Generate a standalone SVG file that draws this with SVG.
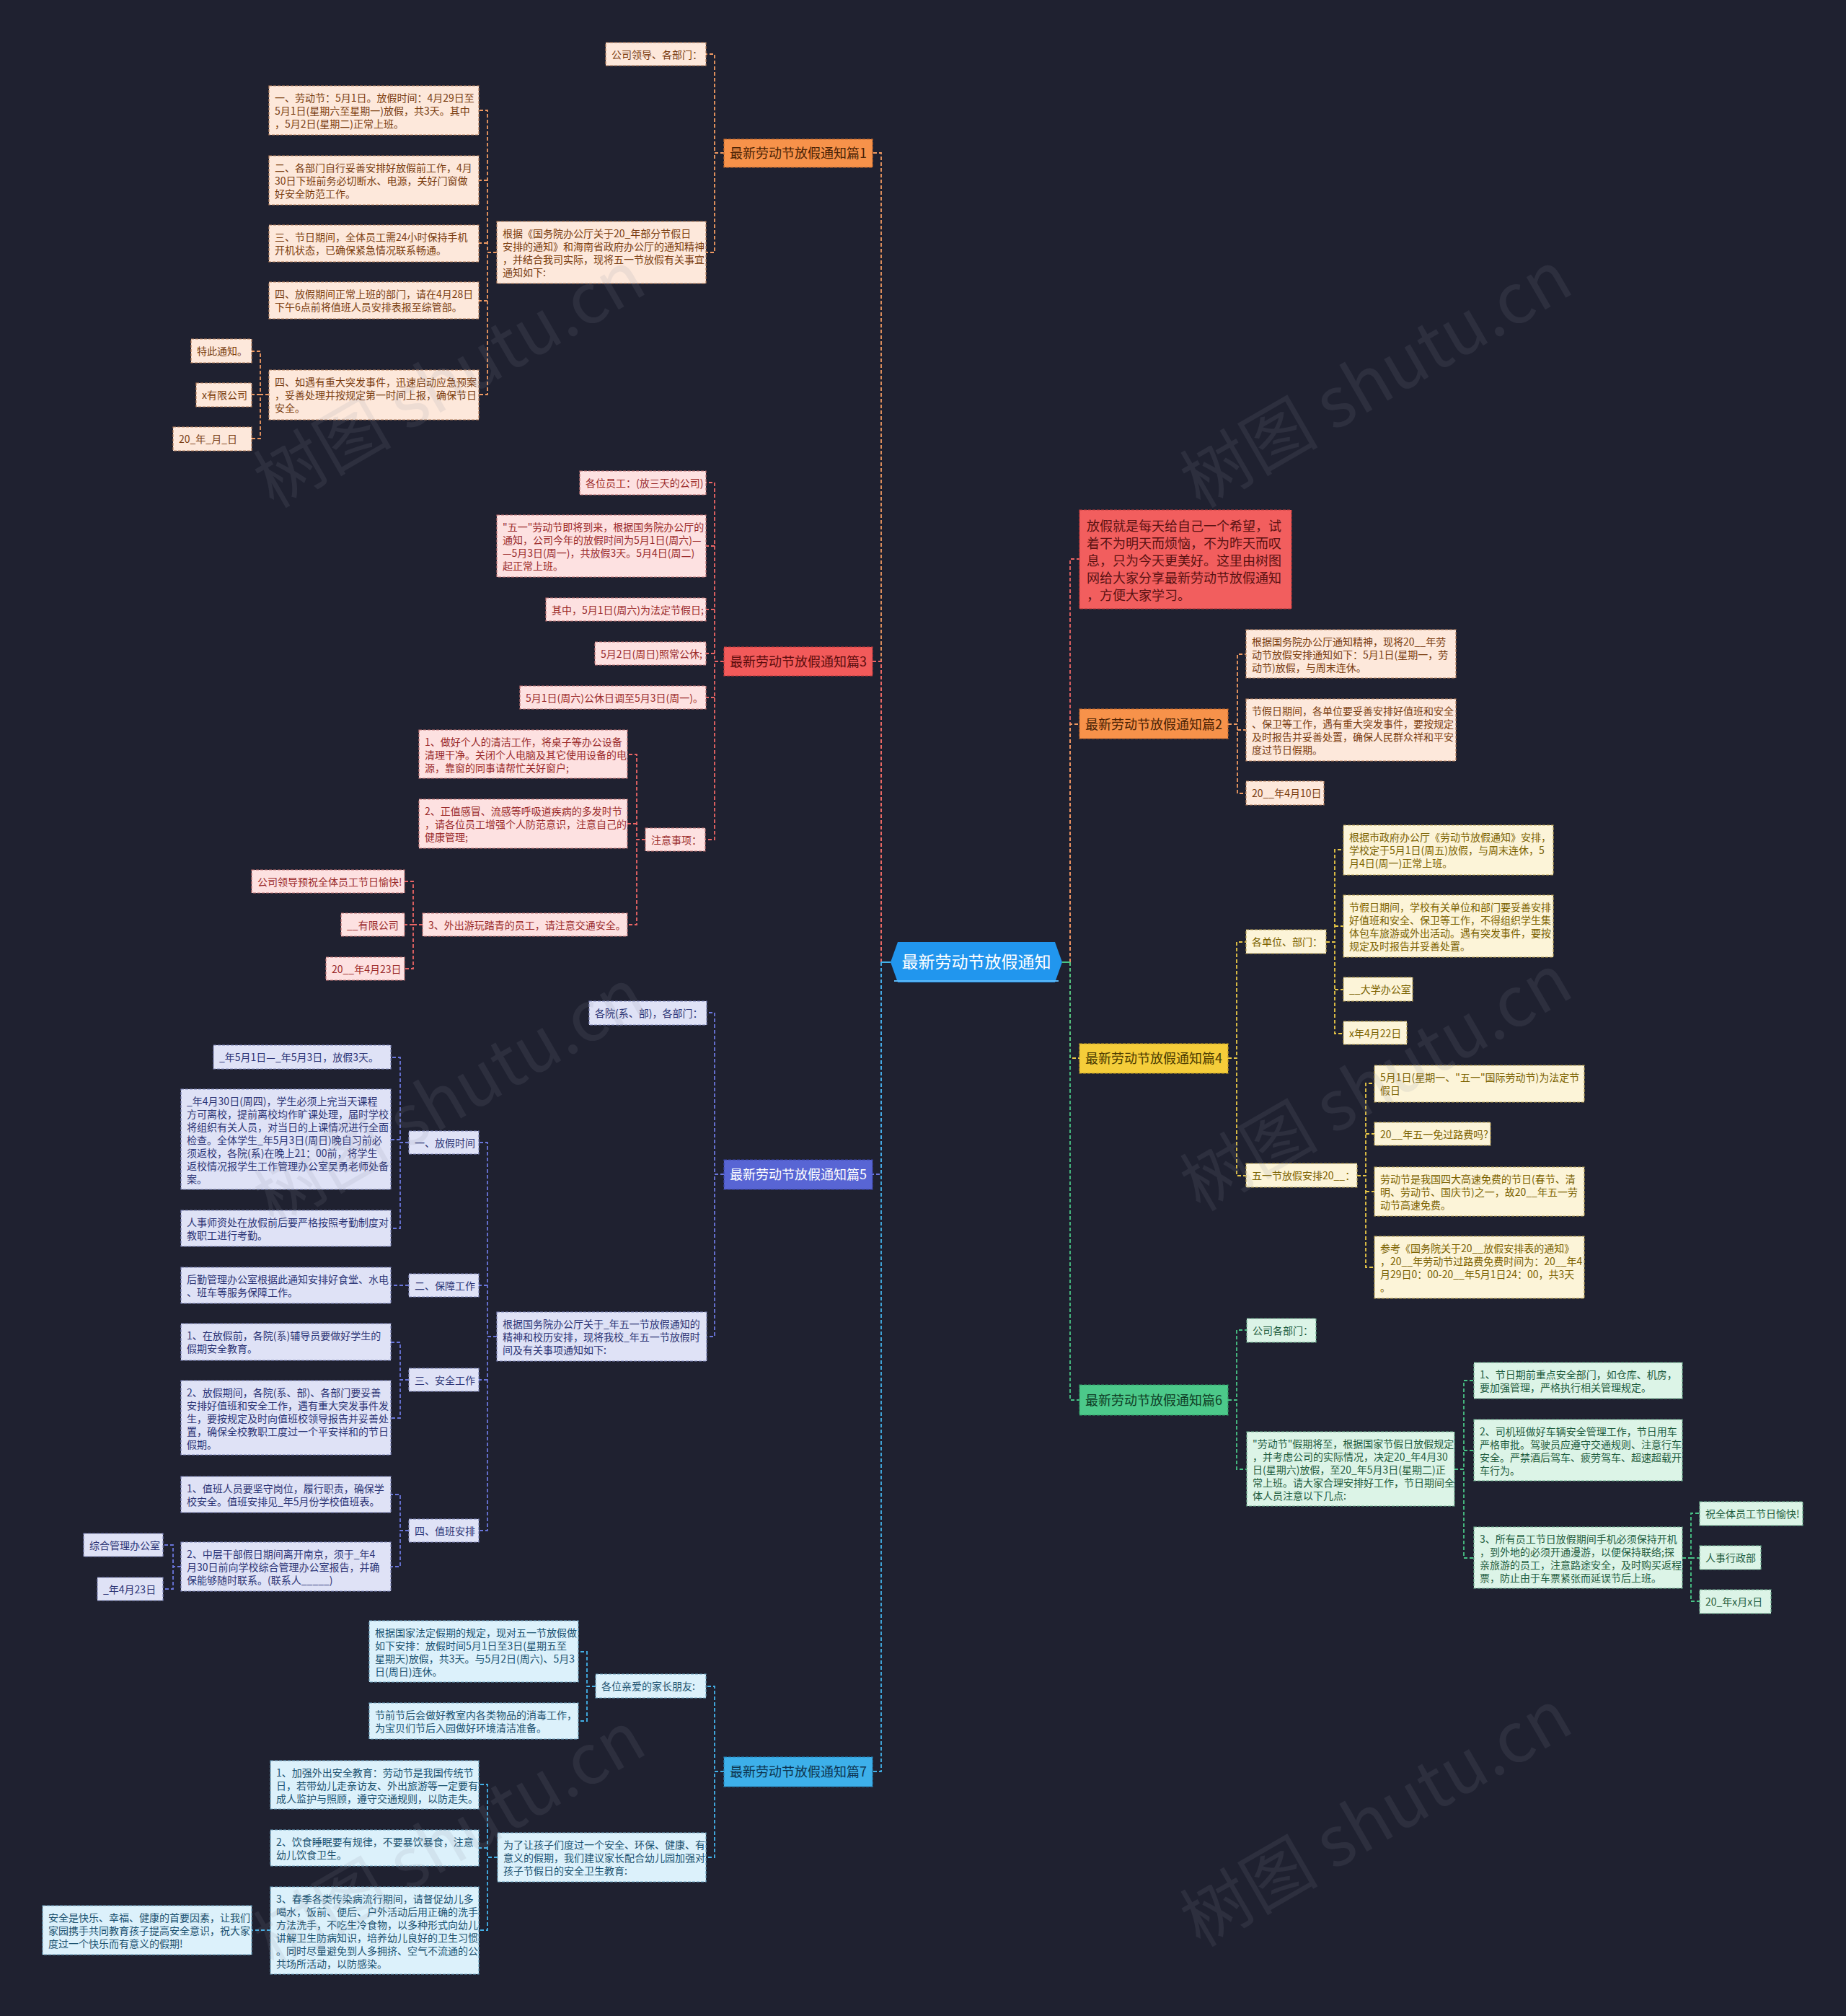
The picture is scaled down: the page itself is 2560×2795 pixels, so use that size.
<svg xmlns="http://www.w3.org/2000/svg" width="2560" height="2795" viewBox="0 0 2560 2795">
<style>
text{font-family:"Noto Sans CJK SC","Microsoft YaHei","Liberation Sans",sans-serif;font-size:14px}
.c{fill:none;stroke-width:1.8;stroke-dasharray:5 3}
.so{stroke:#f09a62}.sr{stroke:#ec6565}.si{stroke:#6a76dc}.ss{stroke:#43b2ea}.sy{stroke:#e9c846}.sg{stroke:#48c486}
.b{stroke-width:1.2;stroke-dasharray:4 2}
.bo{fill:#fde8db;stroke:#b8805c}.br{fill:#fde1e1;stroke:#c07070}.bi{fill:#dfe2f6;stroke:#7d84b8}.bs{fill:#dcf1fb;stroke:#6aa2bf}.by{fill:#fcf4d8;stroke:#b8a050}.bg{fill:#dcf4e7;stroke:#6aae8c}
.to{fill:#7a3d10}.tr{fill:#9a2a2a}.ti{fill:#2c3475}.ts{fill:#1b5270}.ty{fill:#7b6200}.tg{fill:#1f5c3e}
.tp{font-size:18px;text-anchor:middle}
.wm{font-size:96px;fill:#8a8fa0;opacity:0.13;text-anchor:middle}
</style>
<rect width="2560" height="2795" fill="#1f2130"/>

<g id="connectors">
<path class="c so" d="M1222,1334 V212 H1210"/>
<path class="c sr" d="M1222,1334 V917 H1210"/>
<path class="c si" d="M1222,1334 V1628 H1210"/>
<path class="c ss" d="M1222,1334 V2456 H1210"/>
<path class="c sr" d="M1484,1334 V775 H1497"/>
<path class="c so" d="M1484,1334 V1004 H1497"/>
<path class="c sy" d="M1484,1334 V1467 H1497"/>
<path class="c sg" d="M1484,1334 V1941 H1497"/>
<path d="M1235,1334 H1222" stroke="#43b2ea" stroke-width="2" fill="none"/>
<path d="M1473,1334 H1484" stroke="#48c486" stroke-width="2" fill="none"/>

<path class="c so" d="M1004,212 H991 V75 H979 M1004,212 H991 V350 H979"/>
<path class="c so" d="M689,350 H676 V153 H664 M676,250 H664 M676,337 H664 M676,417 H664 M689,350 H676 V547 H664"/>
<path class="c so" d="M373,547 H361 V487 H349 M361,547 H349 M373,547 H361 V608 H349"/>

<path class="c sr" d="M1004,917 H991 V669 H979 M991,757 H979 M991,845 H979 M991,906 H979 M1004,917 H991 V1164 H978 M991,967 H979"/>
<path class="c sr" d="M895,1164 H883 V1046 H870 M883,1142 H870 M895,1164 H883 V1282 H870"/>
<path class="c sr" d="M586,1282 H573 V1222 H561 M573,1282 H561 M586,1282 H573 V1343 H561"/>

<path class="c si" d="M1004,1628 H991 V1404 H980 M1004,1628 H991 V1853 H980"/>
<path class="c si" d="M689,1853 H676 V1584 H664 M676,1782 H664 M676,1913 H664 M689,1853 H676 V2122 H664"/>
<path class="c si" d="M567,1584 H555 V1466 H542 M555,1580 H542 M567,1584 H555 V1703 H542"/>
<path class="c si" d="M567,1782 H542"/>
<path class="c si" d="M567,1913 H555 V1861 H542 M567,1913 H555 V1966 H542"/>
<path class="c si" d="M567,2122 H555 V2072 H542 M567,2122 H555 V2172 H542"/>
<path class="c si" d="M251,2172 H240 V2142 H226 M251,2172 H240 V2203 H226"/>

<path class="c ss" d="M1004,2456 H991 V2338 H979 M1004,2456 H991 V2575 H979"/>
<path class="c ss" d="M826,2338 H814 V2290 H802 M826,2338 H814 V2386 H802"/>
<path class="c ss" d="M690,2575 H676 V2474 H664 M676,2562 H664 M690,2575 H676 V2676 H664"/>
<path class="c ss" d="M375,2676 H349"/>

<path class="c so" d="M1703,1004 H1716 V907 H1728 M1716,1012 H1728 M1703,1004 H1716 V1100 H1728"/>

<path class="c sy" d="M1703,1467 H1715 V1306 H1728 M1703,1467 H1715 V1630 H1728"/>
<path class="c sy" d="M1839,1306 H1851 V1178 H1863 M1851,1284 H1863 M1839,1306 H1851 V1433 H1863 M1851,1372 H1863"/>
<path class="c sy" d="M1882,1630 H1894 V1502 H1906 M1894,1572 H1906 M1882,1630 H1894 V1757 H1906 M1894,1652 H1906"/>

<path class="c sg" d="M1703,1941 H1715 V1844 H1729 M1703,1941 H1715 V2037 H1729"/>
<path class="c sg" d="M2017,2037 H2030 V1914 H2044 M2030,2011 H2044 M2017,2037 H2030 V2160 H2044"/>
<path class="c sg" d="M2333,2160 H2345 V2098 H2357 M2345,2160 H2357 M2333,2160 H2345 V2220 H2357"/>
</g>

<g id="center">
<polygon points="1235,1334 1245,1306 1463,1306 1473,1334 1463,1362 1245,1362" fill="#2196ee"/>
<path d="M1240,1360 H1468" stroke="#5cb8f7" stroke-width="2"/>
<text x="1354" y="1342" text-anchor="middle" style="font-size:23px" fill="#ffffff">最新劳动节放假通知</text>
</g>

<g id="topic1"><rect x="1004" y="193" width="206" height="39" fill="#f7924a" stroke="#c86a2c" stroke-width="1.2" stroke-dasharray="4 2"/><text class="tp" x="1107" y="218.5" fill="#4a2205">最新劳动节放假通知篇1</text></g>
<g id="topic3"><rect x="1004" y="897" width="206" height="40" fill="#f25a5a" stroke="#c03a3a" stroke-width="1.2" stroke-dasharray="4 2"/><text class="tp" x="1107" y="923.5" fill="#5c0d0d">最新劳动节放假通知篇3</text></g>
<g id="topic5"><rect x="1004" y="1608" width="206" height="41" fill="#5865d4" stroke="#3a45a8" stroke-width="1.2" stroke-dasharray="4 2"/><text class="tp" x="1107" y="1635" fill="#ffffff">最新劳动节放假通知篇5</text></g>
<g id="topic7"><rect x="1004" y="2436" width="206" height="41" fill="#3db0ea" stroke="#2585bb" stroke-width="1.2" stroke-dasharray="4 2"/><text class="tp" x="1107" y="2463" fill="#0d3550">最新劳动节放假通知篇7</text></g>
<g id="topic2"><rect x="1497" y="983" width="206" height="41" fill="#f7924a" stroke="#c86a2c" stroke-width="1.2" stroke-dasharray="4 2"/><text class="tp" x="1600" y="1010.5" fill="#4a2205">最新劳动节放假通知篇2</text></g>
<g id="topic4"><rect x="1497" y="1447" width="206" height="41" fill="#f5cd3a" stroke="#c4a020" stroke-width="1.2" stroke-dasharray="4 2"/><text class="tp" x="1600" y="1474" fill="#4a3a00">最新劳动节放假通知篇4</text></g>
<g id="topic6"><rect x="1497" y="1920" width="206" height="42" fill="#4cc98a" stroke="#2f9a64" stroke-width="1.2" stroke-dasharray="4 2"/><text class="tp" x="1600" y="1947.5" fill="#0f3d25">最新劳动节放假通知篇6</text></g>

<g id="intro"><rect x="1497" y="707" width="294" height="137" fill="#f25e5e" stroke="#c03a3a" stroke-width="1.2" stroke-dasharray="4 2"/>
<text style="font-size:18px" fill="#5a1212"><tspan x="1507" y="735.5">放假就是每天给自己一个希望，试</tspan><tspan x="1507" y="759.5">着不为明天而烦恼，不为昨天而叹</tspan><tspan x="1507" y="783.5">息，只为今天更美好。这里由树图</tspan><tspan x="1507" y="807.5">网给大家分享最新劳动节放假通知</tspan><tspan x="1507" y="831.5">，方便大家学习。</tspan></text></g>

<!-- 篇1 -->
<g id="n1a"><rect class="b bo" x="840" y="59" width="139" height="32"/><text class="to" x="848" y="80.5">公司领导、各部门：</text></g>
<g id="n1b"><rect class="b bo" x="689" y="307" width="290" height="86"/><text class="to"><tspan x="697" y="328.5">根据《国务院办公厅关于20_年部分节假日</tspan><tspan x="697" y="346.5">安排的通知》和海南省政府办公厅的通知精神</tspan><tspan x="697" y="364.5">，并结合我司实际，现将五一节放假有关事宜</tspan><tspan x="697" y="382.5">通知如下:</tspan></text></g>
<g id="n1c"><rect class="b bo" x="373" y="119" width="291" height="68"/><text class="to"><tspan x="381" y="140.5">一、劳动节：5月1日。放假时间：4月29日至</tspan><tspan x="381" y="158.5">5月1日(星期六至星期一)放假，共3天。其中</tspan><tspan x="381" y="176.5">，5月2日(星期二)正常上班。</tspan></text></g>
<g id="n1d"><rect class="b bo" x="373" y="216" width="291" height="68"/><text class="to"><tspan x="381" y="237.5">二、各部门自行妥善安排好放假前工作，4月</tspan><tspan x="381" y="255.5">30日下班前务必切断水、电源，关好门窗做</tspan><tspan x="381" y="273.5">好安全防范工作。</tspan></text></g>
<g id="n1e"><rect class="b bo" x="373" y="312" width="291" height="51"/><text class="to"><tspan x="381" y="333.5">三、节日期间，全体员工需24小时保持手机</tspan><tspan x="381" y="351.5">开机状态，已确保紧急情况联系畅通。</tspan></text></g>
<g id="n1f"><rect class="b bo" x="373" y="391" width="291" height="51"/><text class="to"><tspan x="381" y="412.5">四、放假期间正常上班的部门，请在4月28日</tspan><tspan x="381" y="430.5">下午6点前将值班人员安排表报至综管部。</tspan></text></g>
<g id="n1g"><rect class="b bo" x="373" y="513" width="291" height="69"/><text class="to"><tspan x="381" y="534.5">四、如遇有重大突发事件，迅速启动应急预案</tspan><tspan x="381" y="552.5">，妥善处理并按规定第一时间上报，确保节日</tspan><tspan x="381" y="570.5">安全。</tspan></text></g>
<g id="n1h"><rect class="b bo" x="265" y="470" width="84" height="33"/><text class="to" x="273" y="491.5">特此通知。</text></g>
<g id="n1i"><rect class="b bo" x="272" y="531" width="77" height="33"/><text class="to" x="280" y="552.5">x有限公司</text></g>
<g id="n1j"><rect class="b bo" x="240" y="592" width="109" height="33"/><text class="to" x="248" y="613.5">20_年_月_日</text></g>

<!-- 篇3 -->
<g id="n3a"><rect class="b br" x="804" y="653" width="175" height="33"/><text class="tr" x="812" y="674.5">各位员工：(放三天的公司)</text></g>
<g id="n3b"><rect class="b br" x="689" y="714" width="290" height="86"/><text class="tr"><tspan x="697" y="735.5">"五一"劳动节即将到来，根据国务院办公厅的</tspan><tspan x="697" y="753.5">通知，公司今年的放假时间为5月1日(周六)—</tspan><tspan x="697" y="771.5">—5月3日(周一)，共放假3天。5月4日(周二)</tspan><tspan x="697" y="789.5">起正常上班。</tspan></text></g>
<g id="n3c"><rect class="b br" x="757" y="829" width="222" height="32"/><text class="tr" x="765" y="850.5">其中，5月1日(周六)为法定节假日;</text></g>
<g id="n3d"><rect class="b br" x="825" y="890" width="154" height="32"/><text class="tr" x="833" y="911.5">5月2日(周日)照常公休;</text></g>
<g id="n3e"><rect class="b br" x="721" y="951" width="258" height="32"/><text class="tr" x="729" y="972.5">5月1日(周六)公休日调至5月3日(周一)。</text></g>
<g id="n3f"><rect class="b br" x="895" y="1148" width="83" height="32"/><text class="tr" x="903" y="1169.5">注意事项：</text></g>
<g id="n3g"><rect class="b br" x="581" y="1012" width="289" height="67"/><text class="tr"><tspan x="589" y="1033.5">1、做好个人的清洁工作，将桌子等办公设备</tspan><tspan x="589" y="1051.5">清理干净。关闭个人电脑及其它使用设备的电</tspan><tspan x="589" y="1069.5">源，靠窗的同事请帮忙关好窗户;</tspan></text></g>
<g id="n3h"><rect class="b br" x="581" y="1108" width="289" height="68"/><text class="tr"><tspan x="589" y="1129.5">2、正值感冒、流感等呼吸道疾病的多发时节</tspan><tspan x="589" y="1147.5">，请各位员工增强个人防范意识，注意自己的</tspan><tspan x="589" y="1165.5">健康管理;</tspan></text></g>
<g id="n3i"><rect class="b br" x="586" y="1266" width="284" height="32"/><text class="tr" x="594" y="1287.5">3、外出游玩踏青的员工，请注意交通安全。</text></g>
<g id="n3j"><rect class="b br" x="349" y="1206" width="212" height="32"/><text class="tr" x="357" y="1227.5">公司领导预祝全体员工节日愉快!</text></g>
<g id="n3k"><rect class="b br" x="473" y="1266" width="88" height="32"/><text class="tr" x="481" y="1287.5">__有限公司</text></g>
<g id="n3l"><rect class="b br" x="452" y="1327" width="109" height="32"/><text class="tr" x="460" y="1348.5">20__年4月23日</text></g>

<!-- 篇5 -->
<g id="n5a"><rect class="b bi" x="817" y="1388" width="163" height="33"/><text class="ti" x="825" y="1409.5">各院(系、部)，各部门：</text></g>
<g id="n5b"><rect class="b bi" x="689" y="1819" width="291" height="68"/><text class="ti"><tspan x="697" y="1840.5">根据国务院办公厅关于_年五一节放假通知的</tspan><tspan x="697" y="1858.5">精神和校历安排，现将我校_年五一节放假时</tspan><tspan x="697" y="1876.5">间及有关事项通知如下:</tspan></text></g>
<g id="n5c"><rect class="b bi" x="567" y="1568" width="97" height="32"/><text class="ti" x="575" y="1589.5">一、放假时间</text></g>
<g id="n5d"><rect class="b bi" x="567" y="1766" width="97" height="32"/><text class="ti" x="575" y="1787.5">二、保障工作</text></g>
<g id="n5e"><rect class="b bi" x="567" y="1897" width="97" height="32"/><text class="ti" x="575" y="1918.5">三、安全工作</text></g>
<g id="n5f"><rect class="b bi" x="567" y="2106" width="97" height="32"/><text class="ti" x="575" y="2127.5">四、值班安排</text></g>
<g id="n5g"><rect class="b bi" x="296" y="1449" width="246" height="33"/><text class="ti" x="304" y="1470.5">_年5月1日—_年5月3日，放假3天。</text></g>
<g id="n5h"><rect class="b bi" x="251" y="1510" width="291" height="139"/><text class="ti"><tspan x="259" y="1531.5">_年4月30日(周四)，学生必须上完当天课程</tspan><tspan x="259" y="1549.5">方可离校，提前离校均作旷课处理，届时学校</tspan><tspan x="259" y="1567.5">将组织有关人员，对当日的上课情况进行全面</tspan><tspan x="259" y="1585.5">检查。全体学生_年5月3日(周日)晚自习前必</tspan><tspan x="259" y="1603.5">须返校，各院(系)在晚上21：00前，将学生</tspan><tspan x="259" y="1621.5">返校情况报学生工作管理办公室吴勇老师处备</tspan><tspan x="259" y="1639.5">案。</tspan></text></g>
<g id="n5i"><rect class="b bi" x="251" y="1678" width="291" height="50"/><text class="ti"><tspan x="259" y="1699.5">人事师资处在放假前后要严格按照考勤制度对</tspan><tspan x="259" y="1717.5">教职工进行考勤。</tspan></text></g>
<g id="n5j"><rect class="b bi" x="251" y="1757" width="291" height="50"/><text class="ti"><tspan x="259" y="1778.5">后勤管理办公室根据此通知安排好食堂、水电</tspan><tspan x="259" y="1796.5">、班车等服务保障工作。</tspan></text></g>
<g id="n5k"><rect class="b bi" x="251" y="1835" width="291" height="51"/><text class="ti"><tspan x="259" y="1856.5">1、在放假前，各院(系)辅导员要做好学生的</tspan><tspan x="259" y="1874.5">假期安全教育。</tspan></text></g>
<g id="n5l"><rect class="b bi" x="251" y="1914" width="291" height="103"/><text class="ti"><tspan x="259" y="1935.5">2、放假期间，各院(系、部)、各部门要妥善</tspan><tspan x="259" y="1953.5">安排好值班和安全工作，遇有重大突发事件发</tspan><tspan x="259" y="1971.5">生，要按规定及时向值班校领导报告并妥善处</tspan><tspan x="259" y="1989.5">置，确保全校教职工度过一个平安祥和的节日</tspan><tspan x="259" y="2007.5">假期。</tspan></text></g>
<g id="n5m"><rect class="b bi" x="251" y="2047" width="291" height="50"/><text class="ti"><tspan x="259" y="2068.5">1、值班人员要坚守岗位，履行职责，确保学</tspan><tspan x="259" y="2086.5">校安全。值班安排见_年5月份学校值班表。</tspan></text></g>
<g id="n5n"><rect class="b bi" x="251" y="2138" width="291" height="68"/><text class="ti"><tspan x="259" y="2159.5">2、中层干部假日期间离开南京，须于_年4</tspan><tspan x="259" y="2177.5">月30日前向学校综合管理办公室报告，并确</tspan><tspan x="259" y="2195.5">保能够随时联系。(联系人_____)</tspan></text></g>
<g id="n5o"><rect class="b bi" x="116" y="2126" width="110" height="32"/><text class="ti" x="124" y="2147.5">综合管理办公室</text></g>
<g id="n5p"><rect class="b bi" x="135" y="2187" width="91" height="32"/><text class="ti" x="143" y="2208.5">_年4月23日</text></g>

<!-- 篇7 -->
<g id="n7a"><rect class="b bs" x="826" y="2321" width="153" height="33"/><text class="ts" x="834" y="2342.5">各位亲爱的家长朋友:</text></g>
<g id="n7b"><rect class="b bs" x="690" y="2541" width="289" height="68"/><text class="ts"><tspan x="698" y="2562.5">为了让孩子们度过一个安全、环保、健康、有</tspan><tspan x="698" y="2580.5">意义的假期，我们建议家长配合幼儿园加强对</tspan><tspan x="698" y="2598.5">孩子节假日的安全卫生教育:</tspan></text></g>
<g id="n7c"><rect class="b bs" x="512" y="2247" width="290" height="85"/><text class="ts"><tspan x="520" y="2268.5">根据国家法定假期的规定，现对五一节放假做</tspan><tspan x="520" y="2286.5">如下安排：放假时间5月1日至3日(星期五至</tspan><tspan x="520" y="2304.5">星期天)放假，共3天。与5月2日(周六)、5月3</tspan><tspan x="520" y="2322.5">日(周日)连休。</tspan></text></g>
<g id="n7d"><rect class="b bs" x="512" y="2361" width="290" height="50"/><text class="ts"><tspan x="520" y="2382.5">节前节后会做好教室内各类物品的消毒工作，</tspan><tspan x="520" y="2400.5">为宝贝们节后入园做好环境清洁准备。</tspan></text></g>
<g id="n7e"><rect class="b bs" x="375" y="2441" width="289" height="67"/><text class="ts"><tspan x="383" y="2462.5">1、加强外出安全教育：劳动节是我国传统节</tspan><tspan x="383" y="2480.5">日，若带幼儿走亲访友、外出旅游等一定要有</tspan><tspan x="383" y="2498.5">成人监护与照顾，遵守交通规则，以防走失。</tspan></text></g>
<g id="n7f"><rect class="b bs" x="375" y="2537" width="289" height="50"/><text class="ts"><tspan x="383" y="2558.5">2、饮食睡眠要有规律，不要暴饮暴食，注意</tspan><tspan x="383" y="2576.5">幼儿饮食卫生。</tspan></text></g>
<g id="n7g"><rect class="b bs" x="375" y="2616" width="289" height="121"/><text class="ts"><tspan x="383" y="2637.5">3、春季各类传染病流行期间，请督促幼儿多</tspan><tspan x="383" y="2655.5">喝水，饭前、便后、户外活动后用正确的洗手</tspan><tspan x="383" y="2673.5">方法洗手，不吃生冷食物，以多种形式向幼儿</tspan><tspan x="383" y="2691.5">讲解卫生防病知识，培养幼儿良好的卫生习惯</tspan><tspan x="383" y="2709.5">。同时尽量避免到人多拥挤、空气不流通的公</tspan><tspan x="383" y="2727.5">共场所活动，以防感染。</tspan></text></g>
<g id="n7h"><rect class="b bs" x="59" y="2642" width="290" height="68"/><text class="ts"><tspan x="67" y="2663.5">安全是快乐、幸福、健康的首要因素，让我们</tspan><tspan x="67" y="2681.5">家园携手共同教育孩子提高安全意识，祝大家</tspan><tspan x="67" y="2699.5">度过一个快乐而有意义的假期!</tspan></text></g>

<!-- 篇2 -->
<g id="n2a"><rect class="b bo" x="1728" y="873" width="291" height="67"/><text class="to"><tspan x="1736" y="894.5">根据国务院办公厅通知精神，现将20__年劳</tspan><tspan x="1736" y="912.5">动节放假安排通知如下：5月1日(星期一，劳</tspan><tspan x="1736" y="930.5">动节)放假，与周末连休。</tspan></text></g>
<g id="n2b"><rect class="b bo" x="1728" y="969" width="291" height="86"/><text class="to"><tspan x="1736" y="990.5">节假日期间，各单位要妥善安排好值班和安全</tspan><tspan x="1736" y="1008.5">、保卫等工作，遇有重大突发事件，要按规定</tspan><tspan x="1736" y="1026.5">及时报告并妥善处置，确保人民群众祥和平安</tspan><tspan x="1736" y="1044.5">度过节日假期。</tspan></text></g>
<g id="n2c"><rect class="b bo" x="1728" y="1083" width="108" height="33"/><text class="to" x="1736" y="1104.5">20__年4月10日</text></g>

<!-- 篇4 -->
<g id="n4a"><rect class="b by" x="1728" y="1289" width="111" height="33"/><text class="ty" x="1736" y="1310.5">各单位、部门：</text></g>
<g id="n4b"><rect class="b by" x="1728" y="1613" width="154" height="33"/><text class="ty" x="1736" y="1634.5">五一节放假安排20__：</text></g>
<g id="n4c"><rect class="b by" x="1863" y="1144" width="291" height="69"/><text class="ty"><tspan x="1871" y="1165.5">根据市政府办公厅《劳动节放假通知》安排，</tspan><tspan x="1871" y="1183.5">学校定于5月1日(周五)放假，与周末连休，5</tspan><tspan x="1871" y="1201.5">月4日(周一)正常上班。</tspan></text></g>
<g id="n4d"><rect class="b by" x="1863" y="1241" width="291" height="86"/><text class="ty"><tspan x="1871" y="1262.5">节假日期间，学校有关单位和部门要妥善安排</tspan><tspan x="1871" y="1280.5">好值班和安全、保卫等工作，不得组织学生集</tspan><tspan x="1871" y="1298.5">体包车旅游或外出活动。遇有突发事件，要按</tspan><tspan x="1871" y="1316.5">规定及时报告并妥善处置。</tspan></text></g>
<g id="n4e"><rect class="b by" x="1863" y="1355" width="96" height="33"/><text class="ty" x="1871" y="1376.5">__大学办公室</text></g>
<g id="n4f"><rect class="b by" x="1863" y="1416" width="88" height="32"/><text class="ty" x="1871" y="1437.5">x年4月22日</text></g>
<g id="n4g"><rect class="b by" x="1906" y="1477" width="291" height="51"/><text class="ty"><tspan x="1914" y="1498.5">5月1日(星期一、"五一"国际劳动节)为法定节</tspan><tspan x="1914" y="1516.5">假日</tspan></text></g>
<g id="n4h"><rect class="b by" x="1906" y="1556" width="161" height="32"/><text class="ty" x="1914" y="1577.5">20__年五一免过路费吗?</text></g>
<g id="n4i"><rect class="b by" x="1906" y="1618" width="291" height="68"/><text class="ty"><tspan x="1914" y="1639.5">劳动节是我国四大高速免费的节日(春节、清</tspan><tspan x="1914" y="1657.5">明、劳动节、国庆节)之一，故20__年五一劳</tspan><tspan x="1914" y="1675.5">动节高速免费。</tspan></text></g>
<g id="n4j"><rect class="b by" x="1906" y="1714" width="291" height="86"/><text class="ty"><tspan x="1914" y="1735.5">参考《国务院关于20__放假安排表的通知》</tspan><tspan x="1914" y="1753.5">，20__年劳动节过路费免费时间为：20__年4</tspan><tspan x="1914" y="1771.5">月29日0：00-20__年5月1日24：00，共3天</tspan><tspan x="1914" y="1789.5">。</tspan></text></g>

<!-- 篇6 -->
<g id="n6a"><rect class="b bg" x="1729" y="1828" width="96" height="33"/><text class="tg" x="1737" y="1849.5">公司各部门：</text></g>
<g id="n6b"><rect class="b bg" x="1729" y="1985" width="288" height="103"/><text class="tg"><tspan x="1737" y="2006.5">"劳动节"假期将至，根据国家节假日放假规定</tspan><tspan x="1737" y="2024.5">，并考虑公司的实际情况，决定20_年4月30</tspan><tspan x="1737" y="2042.5">日(星期六)放假，至20_年5月3日(星期二)正</tspan><tspan x="1737" y="2060.5">常上班。请大家合理安排好工作，节日期间全</tspan><tspan x="1737" y="2078.5">体人员注意以下几点:</tspan></text></g>
<g id="n6c"><rect class="b bg" x="2044" y="1889" width="289" height="50"/><text class="tg"><tspan x="2052" y="1910.5">1、节日期前重点安全部门，如仓库、机房，</tspan><tspan x="2052" y="1928.5">要加强管理，严格执行相关管理规定。</tspan></text></g>
<g id="n6d"><rect class="b bg" x="2044" y="1968" width="289" height="85"/><text class="tg"><tspan x="2052" y="1989.5">2、司机班做好车辆安全管理工作，节日用车</tspan><tspan x="2052" y="2007.5">严格审批。驾驶员应遵守交通规则、注意行车</tspan><tspan x="2052" y="2025.5">安全。严禁酒后驾车、疲劳驾车、超速超载开</tspan><tspan x="2052" y="2043.5">车行为。</tspan></text></g>
<g id="n6e"><rect class="b bg" x="2044" y="2117" width="289" height="85"/><text class="tg"><tspan x="2052" y="2138.5">3、所有员工节日放假期间手机必须保持开机</tspan><tspan x="2052" y="2156.5">，到外地的必须开通漫游，以便保持联络;探</tspan><tspan x="2052" y="2174.5">亲旅游的员工，注意路途安全，及时购买返程</tspan><tspan x="2052" y="2192.5">票，防止由于车票紧张而延误节后上班。</tspan></text></g>
<g id="n6f"><rect class="b bg" x="2357" y="2082" width="143" height="33"/><text class="tg" x="2365" y="2103.5">祝全体员工节日愉快!</text></g>
<g id="n6g"><rect class="b bg" x="2357" y="2143" width="85" height="33"/><text class="tg" x="2365" y="2164.5">人事行政部</text></g>
<g id="n6h"><rect class="b bg" x="2357" y="2204" width="99" height="33"/><text class="tg" x="2365" y="2225.5">20_年x月x日</text></g>

<g id="watermarks">
<text class="wm" transform="translate(640,555) rotate(-30)">树图 shutu.cn</text>
<text class="wm" transform="translate(1925,555) rotate(-30)">树图 shutu.cn</text>
<text class="wm" transform="translate(640,1550) rotate(-30)">树图 shutu.cn</text>
<text class="wm" transform="translate(1925,1530) rotate(-30)">树图 shutu.cn</text>
<text class="wm" transform="translate(640,2580) rotate(-30)">树图 shutu.cn</text>
<text class="wm" transform="translate(1925,2550) rotate(-30)">树图 shutu.cn</text>
</g>
</svg>
